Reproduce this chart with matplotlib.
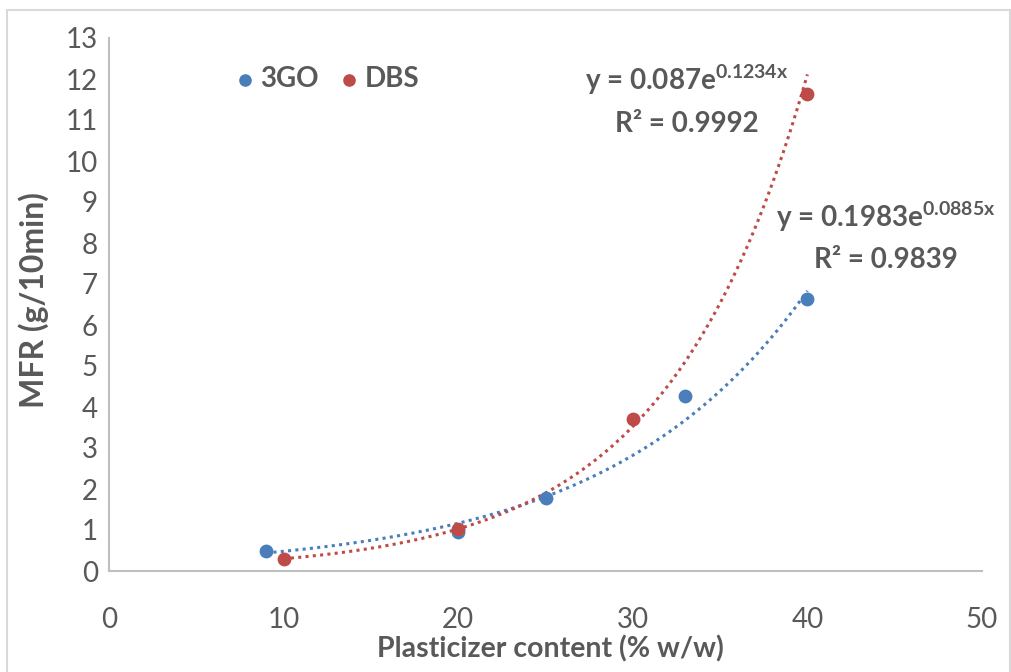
import matplotlib
matplotlib.use("Agg")
import matplotlib.pyplot as plt
import numpy as np
from matplotlib.patches import Rectangle

# data
x_3go = [9, 20, 25, 33, 40]
y_3go = [0.50, 0.95, 1.78, 4.27, 6.63]
x_dbs = [10, 20, 30, 40]
y_dbs = [0.29, 1.02, 3.71, 11.63]

# exponential trendline coefficients shown on the chart
fit_3go = (0.1983, 0.0885)
fit_dbs = (0.087, 0.1234)

blue = "#4A7EBB"
red = "#BE4B48"
txt = "#595959"

plt.rcParams["font.family"] = ["Lato", "DejaVu Sans"]
plt.rcParams["mathtext.fontset"] = "custom"
plt.rcParams["mathtext.rm"] = "Lato"
plt.rcParams["mathtext.bf"] = "Lato:bold"

W, H = 1012, 672
fig = plt.figure(figsize=(W / 100, H / 100), dpi=100)
ax = fig.add_axes([109 / W, 1 - 571 / H, (982 - 109) / W, (571 - 38) / H])

# outer chart border
fig.patches.append(Rectangle((7 / W, -0.01), 1003 / W, 1 - 10 / H + 0.01,
                             transform=fig.transFigure, fill=False,
                             edgecolor="#D9D9D9", linewidth=1.5))

# trendlines
for xs, (a, b), c in [(x_3go, fit_3go, blue), (x_dbs, fit_dbs, red)]:
    xx = np.linspace(min(xs), max(xs), 200)
    ax.plot(xx, a * np.exp(b * xx), color=c, linestyle=(0, (1, 1.4)),
            linewidth=2.2, zorder=2)

ax.scatter(x_3go, y_3go, s=80, color=blue, label="3GO", zorder=3)
ax.scatter(x_dbs, y_dbs, s=80, color=red, label="DBS", zorder=3)

ax.set_xlim(0, 50)
ax.set_ylim(0, 13)
ax.set_xticks(range(0, 51, 10))
ax.set_yticks(range(0, 14))
ax.tick_params(length=0, labelsize=20, labelcolor=txt, pad=8)
ax.tick_params(axis="x", pad=26)
for s in ["top", "right"]:
    ax.spines[s].set_visible(False)
for s in ["left", "bottom"]:
    ax.spines[s].set_color("#BFBFBF")
    ax.spines[s].set_linewidth(1.5)

fig.text(34 / W, 1 - 300 / H, "MFR (g/10min)", rotation=90, ha="center",
         va="center", fontsize=23, fontweight="bold", color=txt)
fig.text(550 / W, 1 - 657 / H, "Plasticizer content (% w/w)", ha="center",
         va="baseline", fontsize=20.5, fontweight="bold", color=txt)

leg = ax.legend(loc="upper left", bbox_to_anchor=(0.119, 0.994), ncol=2,
                frameon=False, fontsize=20, handletextpad=0.3,
                handlelength=0.5, columnspacing=0.85, markerscale=0.9)
for t in leg.get_texts():
    t.set_color(txt)
    t.set_fontweight("bold")

eq_kw = dict(ha="center", va="baseline", fontsize=20, fontweight="bold",
             color=txt)
fig.text(687 / W, 1 - 90 / H, r"y = 0.087e$^{\mathbf{0.1234x}}$", **eq_kw)
fig.text(687 / W, 1 - 132 / H, "R² = 0.9992", **eq_kw)
fig.text(886 / W, 1 - 227 / H, r"y = 0.1983e$^{\mathbf{0.0885x}}$", **eq_kw)
fig.text(886 / W, 1 - 268 / H, "R² = 0.9839", **eq_kw)

fig.savefig("out.png", dpi=100)
